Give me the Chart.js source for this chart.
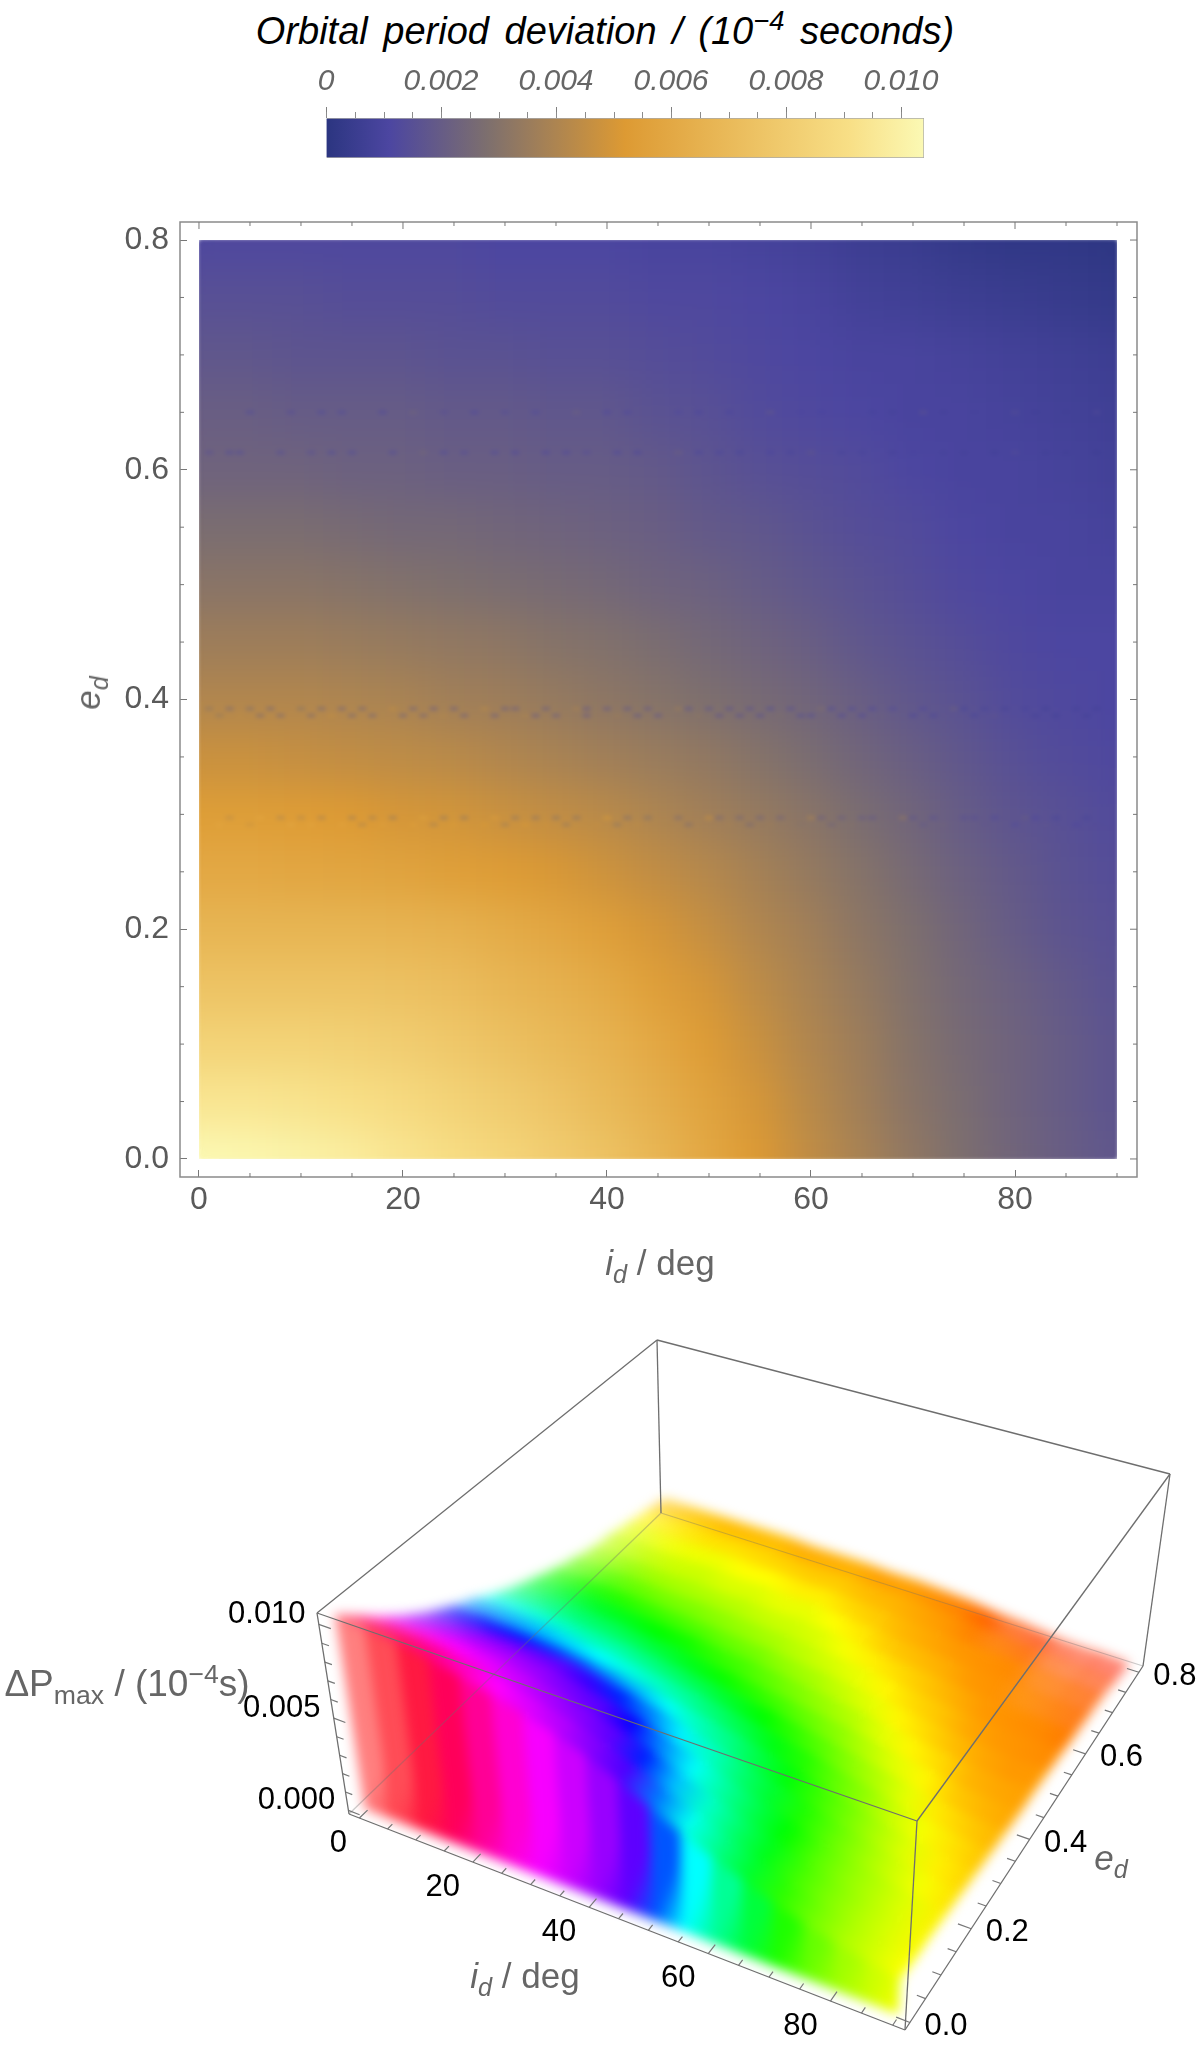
<!DOCTYPE html>
<html lang="en">
<head>
    <meta charset="UTF-8">
    <title>Orbital period deviation</title>
    <script src="https://cdn.jsdelivr.net/npm/chart.js"></script>
    <style>
        body { margin: 0; background: #fff; width: 1200px; height: 2051px; position: relative; overflow: hidden; font-family: "Liberation Sans", sans-serif; }
        canvas { position: absolute; }
        .lbl { position: absolute; white-space: nowrap; color: #666; transform: translate(-50%, -50%); font-size: 35px; }
        sub, sup { font-size: 72%; line-height: 0; }
    </style>
</head>
<body>
    <canvas id="barChart" width="660" height="100" style="left:300px;top:70px"></canvas>
    <canvas id="heatChart" width="1200" height="1100" style="left:0;top:200px"></canvas>
    <canvas id="surfaceChart" width="1200" height="751" style="left:0;top:1300px"></canvas>

    <div class="lbl" style="left:605px;top:31px;color:#000;font-size:38px;font-style:italic;word-spacing:5px">Orbital period deviation / (10<sup>&minus;4</sup> seconds)</div>
    <div class="lbl" style="left:88px;top:693px;transform:translate(-50%,-50%) rotate(-90deg)"><i>e<sub>d</sub></i></div>
    <div class="lbl" style="left:660px;top:1263px"><i>i<sub>d</sub></i> / deg</div>
    <div class="lbl" style="left:127px;top:1684px;font-size:37px">&Delta;P<sub>max</sub> / (10<sup>&minus;4</sup>s)</div>
    <div class="lbl" style="left:525px;top:1976px"><i>i<sub>d</sub></i> / deg</div>
    <div class="lbl" style="left:1111px;top:1858px"><i>e<sub>d</sub></i></div>

    <script>
        // Values
        const idValues = [0, 5, 10, 15, 20, 25, 30, 35, 40, 45, 50, 55, 60, 65, 70, 75, 80, 85, 90];
        const edValues = [0, 0.05, 0.1, 0.15, 0.2, 0.25, 0.3, 0.35, 0.4, 0.45, 0.5, 0.55, 0.6, 0.65, 0.7, 0.75, 0.8];
        // one row per edValues entry, one column per idValues entry
        const deviation = [
            [.0104, .0103, .0101, .0098, .0094, .0090, .0086, .0081, .0075, .0068, .0060, .0052, .0045, .0039, .0033, .0028, .0024, .0021, .0018],
            [.0094, .0094, .0093, .0091, .0088, .0084, .0080, .0076, .0070, .0064, .0057, .0050, .0043, .0037, .0031, .0027, .0023, .0020, .0017],
            [.0084, .0084, .0084, .0083, .0081, .0078, .0074, .0070, .0066, .0060, .0053, .0047, .0041, .0036, .0030, .0026, .0023, .0020, .0017],
            [.0075, .0075, .0075, .0075, .0074, .0072, .0068, .0065, .0061, .0055, .0050, .0044, .0039, .0034, .0029, .0025, .0022, .0019, .0016],
            [.0067, .0067, .0067, .0067, .0066, .0065, .0062, .0059, .0055, .0050, .0046, .0041, .0037, .0032, .0028, .0024, .0020, .0017, .0015],
            [.0060, .0060, .0059, .0058, .0057, .0055, .0053, .0051, .0048, .0045, .0042, .0038, .0034, .0030, .0026, .0022, .0019, .0016, .0014],
            [.0054, .0054, .0053, .0052, .0050, .0049, .0047, .0045, .0043, .0040, .0037, .0034, .0031, .0027, .0024, .0020, .0017, .0015, .0013],
            [.0047, .0047, .0046, .0045, .0044, .0043, .0041, .0039, .0037, .0035, .0033, .0030, .0027, .0024, .0021, .0018, .0015, .0013, .0012],
            [.0041, .0041, .0041, .0040, .0039, .0037, .0036, .0034, .0032, .0030, .0028, .0026, .0024, .0021, .0018, .0016, .0013, .0012, .0011],
            [.0036, .0036, .0036, .0035, .0034, .0033, .0032, .0030, .0029, .0027, .0025, .0023, .0021, .0018, .0016, .0014, .0012, .0011, .0011],
            [.0031, .0031, .0031, .0030, .0029, .0028, .0027, .0026, .0025, .0023, .0022, .0020, .0018, .0016, .0014, .0012, .0011, .0010, .0010],
            [.0027, .0027, .0027, .0026, .0025, .0025, .0024, .0023, .0022, .0021, .0019, .0018, .0016, .0014, .0013, .0011, .0010, .0010, .0009],
            [.0023, .0023, .0023, .0022, .0022, .0021, .0021, .0020, .0020, .0019, .0017, .0015, .0014, .0013, .0011, .0010, .0010, .0009, .0008],
            [.0021, .0021, .0020, .0020, .0020, .0019, .0019, .0018, .0018, .0016, .0015, .0013, .0012, .0011, .0010, .0010, .0009, .0008, .0007],
            [.0018, .0018, .0017, .0017, .0017, .0016, .0016, .0015, .0015, .0014, .0013, .0012, .0011, .0010, .0010, .0009, .0008, .0007, .0006],
            [.0015, .0015, .0015, .0014, .0014, .0014, .0013, .0013, .0013, .0012, .0012, .0011, .0010, .0008, .0007, .0006, .0005, .0004, .0003],
            [.0012, .0012, .0012, .0012, .0012, .0012, .0011, .0011, .0011, .0010, .0010, .0009, .0008, .0006, .0005, .0003, .0002, .0002, .0001]
        ];
        // noisy streaks: [id, deviation] along each eccentricity
        const streakEd = [0.65, 0.615, 0.392, 0.386, 0.297, 0.291];
        const streaks = [
            [[5, .0012], [9, .0013], [12, .0012], [14, .0012], [18, .0011], [21, .0025], [24, .0014], [27, .0011], [30, .0013], [33, .0012], [37, .0024], [40, .0011], [42, .0011], [47, .0012], [49, .0010], [52, .0010], [56, .0021], [59, .0011], [61, .0010], [66, .0009], [68, .0008], [71, .0018], [73, .0008], [76, .0009], [80, .0016], [82, .0007], [85, .0007], [88, .0014]],
            [[1, .0014], [3, .0012], [4, .0012], [8, .0013], [11, .0014], [13, .0012], [15, .0012], [19, .0012], [22, .0026], [24, .0012], [26, .0013], [29, .0012], [31, .0011], [34, .0011], [36, .0011], [38, .0013], [41, .0011], [43, .0010], [47, .0024], [49, .0010], [51, .0010], [53, .0009], [56, .0010], [58, .0009], [60, .0019], [63, .0009], [65, .0009], [68, .0008], [70, .0010], [73, .0008], [75, .0008], [78, .0007], [80, .0015], [83, .0007], [85, .0007], [88, .0006]],
            [[1, .0030], [3, .0024], [5, .0026], [7, .0022], [10, .0028], [12, .0022], [14, .0021], [16, .0022], [19, .0046], [21, .0020], [23, .0018], [25, .0019], [28, .0044], [30, .0018], [31, .0018], [34, .0018], [37, .0040], [38, .0016], [40, .0017], [42, .0016], [44, .0017], [47, .0037], [48, .0015], [50, .0015], [52, .0014], [54, .0014], [56, .0012], [58, .0013], [61, .0030], [62, .0012], [64, .0012], [66, .0011], [68, .0012], [71, .0011], [74, .0024], [75, .0009], [77, .0009], [79, .0008], [81, .0009], [83, .0007], [86, .0008], [88, .0007]],
            [[2, .0032], [4, .0044], [6, .0024], [8, .0023], [11, .0024], [13, .0046], [15, .0022], [17, .0021], [20, .0020], [22, .0021], [24, .0042], [26, .0019], [29, .0018], [32, .0040], [33, .0017], [35, .0018], [38, .0017], [41, .0036], [43, .0016], [45, .0015], [49, .0032], [51, .0014], [53, .0014], [55, .0013], [57, .0028], [59, .0012], [60, .0012], [63, .0011], [65, .0011], [67, .0022], [70, .0010], [72, .0010], [76, .0009], [78, .0018], [82, .0008], [84, .0007], [87, .0007]],
            [[3, .0042], [6, .0060], [8, .0038], [10, .0040], [12, .0036], [15, .0034], [17, .0036], [19, .0032], [22, .0058], [24, .0031], [26, .0030], [29, .0056], [31, .0030], [33, .0029], [35, .0028], [37, .0028], [40, .0054], [42, .0026], [44, .0027], [47, .0025], [50, .0048], [51, .0023], [53, .0022], [55, .0021], [57, .0021], [60, .0042], [61, .0019], [63, .0019], [65, .0018], [66, .0017], [69, .0036], [70, .0016], [72, .0015], [75, .0014], [76, .0014], [78, .0012], [81, .0022], [82, .0011], [84, .0009], [87, .0009]],
            [[2, .0060], [5, .0046], [9, .0062], [11, .0060], [14, .0058], [16, .0038], [18, .0056], [21, .0056], [23, .0036], [25, .0054], [28, .0052], [30, .0034], [32, .0052], [34, .0048], [36, .0032], [39, .0046], [41, .0030], [43, .0044], [46, .0040], [48, .0026], [52, .0038], [54, .0024], [56, .0036], [59, .0030], [62, .0022], [64, .0030], [68, .0026], [71, .0018], [73, .0024], [77, .0018], [80, .0012], [83, .0018], [86, .0011], [88, .0014]]
        ];
        const idTicks = [0, 20, 40, 60, 80];
        const edTicks = [0, 0.2, 0.4, 0.6, 0.8];
        const barTicks = [0, 0.002, 0.004, 0.006, 0.008, 0.01];
        const zTicks = [0, 0.005, 0.01];
        const barMax = 0.0104;

        // colour bar stops
        const colorValues = [0, .0011, .0028, .0052, .0091, .0104];
        const colorRgb = [[43, 53, 128], [76, 70, 161], [125, 111, 110], [221, 154, 51], [248, 223, 134], [251, 249, 180]];
        // hue used on the 3D surface
        const hueValues = [0, .0035, .0052, .0060, .0066, .0087, .0104];
        const hueDegrees = [0, 120, 180, 220, 258, 300, 360];

        function lookup(xs, ys, v) {
            for (let i = 1; i < xs.length; i++) {
                if (v <= xs[i]) {
                    const f = (v - xs[i - 1]) / (xs[i] - xs[i - 1]);
                    return ys[i - 1] + f * (ys[i] - ys[i - 1]);
                }
            }
            return ys[ys.length - 1];
        }
        function heatColor(v, a) {
            const rgb = [0, 1, 2].map(k => Math.round(lookup(colorValues, colorRgb.map(c => c[k]), v)));
            return `rgba(${rgb[0]},${rgb[1]},${rgb[2]},${a === undefined ? 1 : a})`;
        }
        function hueColor(v, a) {
            return `hsla(${lookup(hueValues, hueDegrees, v)},100%,50%,${a === undefined ? 1 : a})`;
        }

        const tickFont = { family: '"Liberation Sans", sans-serif', size: 32 };

        // ---- colour bar
        new Chart(document.getElementById('barChart'), {
            type: 'bar',
            data: {
                labels: [''],
                datasets: [{
                    data: [barMax],
                    barPercentage: 1,
                    categoryPercentage: 1,
                    borderColor: '#aaa',
                    borderWidth: 1,
                    backgroundColor: c => {
                        const area = c.chart.chartArea;
                        if (!area) return '#888';
                        const g = c.chart.ctx.createLinearGradient(area.left, 0, area.right, 0);
                        colorValues.forEach(v => g.addColorStop(v / barMax, heatColor(v)));
                        return g;
                    }
                }]
            },
            options: {
                indexAxis: 'y',
                responsive: false,
                animation: false,
                layout: { autoPadding: false, padding: { left: 26, right: 36, top: 0, bottom: 12 } },
                plugins: { legend: { display: false }, tooltip: { enabled: false } },
                scales: {
                    y: { display: false },
                    x: {
                        position: 'top',
                        min: 0,
                        max: barMax,
                        afterFit: s => { s.height = 48; s.paddingLeft = 0; s.paddingRight = 0; },
                        afterBuildTicks: s => { s.ticks = barTicks.map(v => ({ value: v })); },
                        grid: { drawOnChartArea: false, tickLength: 11, tickColor: '#808080', tickWidth: 1 },
                        border: { display: false },
                        ticks: {
                            font: { ...tickFont, size: 30, style: 'italic' },
                            color: '#666',
                            padding: 7,
                            maxRotation: 0,
                            autoSkip: false,
                            callback: v => v === 0 ? '0' : v.toFixed(3)
                        }
                    }
                }
            },
            plugins: [{
                id: 'barMinorTicks',
                afterDraw(chart) {
                    const { ctx, scales: { x }, chartArea } = chart;
                    ctx.save();
                    ctx.strokeStyle = '#8c8c8c';
                    ctx.beginPath();
                    for (let v = 0; v <= barMax; v += 0.0005) {
                        const px = Math.round(x.getPixelForValue(v)) + 0.5;
                        ctx.moveTo(px, chartArea.top);
                        ctx.lineTo(px, chartArea.top - 6);
                    }
                    ctx.stroke();
                    ctx.restore();
                }
            }]
        });

        // ---- density plot
        const cells = [];
        edValues.forEach((ed, r) => idValues.forEach((id, c) => cells.push({ x: id, y: ed, v: deviation[r][c] })));

        const streakSets = streaks.map((band, b) => ({
            data: band.map(p => ({ x: p[0], y: streakEd[b] })),
            pointStyle: 'line',
            pointRadius: 4,
            pointBorderWidth: 3,
            pointBorderColor: band.map(p => heatColor(p[1], 0.55)),
            showLine: false,
            order: 1
        }));

        function softenInside(chart, radius) {
            const { ctx, canvas } = chart;
            const copy = document.createElement('canvas');
            copy.width = canvas.width;
            copy.height = canvas.height;
            copy.getContext('2d').drawImage(canvas, 0, 0);
            const { x, y } = chart.scales;
            const left = x.getPixelForValue(0), right = x.getPixelForValue(90);
            const top = y.getPixelForValue(0.8), bottom = y.getPixelForValue(0);
            ctx.save();
            ctx.clearRect(0, 0, canvas.width, canvas.height);
            ctx.beginPath();
            ctx.rect(left, top, right - left, bottom - top);
            ctx.clip();
            ctx.filter = `blur(${radius}px)`;
            // twice, so the blur does not bleach the edges of the field
            ctx.drawImage(copy, 0, 0);
            ctx.drawImage(copy, 0, 0);
            ctx.filter = 'none';
            ctx.restore();
        }
        const softHeat = {
            id: 'softHeat',
            afterDatasetDraw(chart, args) {
                if (args.index === 0) softenInside(chart, 20);
            },
            afterDatasetsDraw(chart) {
                softenInside(chart, 2);
            }
        };
        const frameTicks = {
            id: 'frameTicks',
            afterDraw(chart) {
                const { ctx, chartArea: a, scales: { x, y } } = chart;
                ctx.save();
                ctx.strokeStyle = '#8a8a8a';
                ctx.lineWidth = 1.5;
                ctx.strokeRect(a.left, a.top, a.right - a.left, a.bottom - a.top);
                ctx.lineWidth = 1;
                ctx.strokeStyle = '#777';
                ctx.beginPath();
                for (let v = 0; v <= 90; v += 5) {
                    const px = x.getPixelForValue(v), len = v % 20 === 0 ? 7 : 4;
                    ctx.moveTo(px, a.top); ctx.lineTo(px, a.top + len);
                    if (v % 20) { ctx.moveTo(px, a.bottom); ctx.lineTo(px, a.bottom - len); }
                }
                for (let k = 0; k <= 16; k++) {
                    const py = y.getPixelForValue(k * 0.05), len = k % 4 === 0 ? 7 : 4;
                    ctx.moveTo(a.right, py); ctx.lineTo(a.right - len, py);
                    if (k % 4) { ctx.moveTo(a.left, py); ctx.lineTo(a.left + len, py); }
                }
                ctx.stroke();
                ctx.restore();
            }
        };

        new Chart(document.getElementById('heatChart'), {
            type: 'scatter',
            data: {
                datasets: [{
                    data: cells,
                    pointStyle: 'rect',
                    pointRadius: 41,
                    pointBorderWidth: 0,
                    pointBackgroundColor: cells.map(p => heatColor(p.v)),
                    clip: false,
                    order: 2
                }, ...streakSets]
            },
            options: {
                responsive: false,
                animation: false,
                layout: { autoPadding: false, padding: { left: 0, right: 63, top: 22, bottom: 0 } },
                plugins: { legend: { display: false }, tooltip: { enabled: false } },
                scales: {
                    x: {
                        min: -1.86,
                        max: 91.96,
                        afterFit: s => { s.height = 123; s.paddingLeft = 0; s.paddingRight = 0; },
                        afterBuildTicks: s => { s.ticks = idTicks.map(v => ({ value: v })); },
                        grid: { drawOnChartArea: false, tickLength: -7, tickColor: '#777', z: 1 },
                        border: { display: false, z: 1 },
                        ticks: { font: tickFont, color: '#5a5a5a', padding: 11, maxRotation: 0, autoSkip: false, z: 1 }
                    },
                    y: {
                        min: -0.0157,
                        max: 0.8157,
                        afterFit: s => { s.width = 180; s.paddingTop = 0; s.paddingBottom = 0; },
                        afterBuildTicks: s => { s.ticks = edTicks.map(v => ({ value: v })); },
                        grid: { drawOnChartArea: false, tickLength: -7, tickColor: '#777', z: 1 },
                        border: { display: false, z: 1 },
                        ticks: { font: tickFont, color: '#5a5a5a', padding: 18, autoSkip: false, z: 1, callback: v => v.toFixed(1) }
                    }
                }
            },
            plugins: [softHeat, frameTicks]
        });

        // ---- 3D surface
        // camera: screen position and depth weight of the plot box corners
        const boxFloor = [[349, 1814, 1.06], [905, 2030, 1], [1143, 1666, 1.1], [661, 1513, 1.16]];
        const boxRoof = [[317, 1613, 1.04], [917, 1821, 0.98], [1170, 1474, 1.08], [657, 1340, 1.14]];
        const idRange = [-1.86, 91.96], edRange = [-0.0157, 0.8157], zRange = [-0.0002, 0.0106];

        function project(id, ed, z) {
            const u = (id - idRange[0]) / (idRange[1] - idRange[0]);
            const v = (ed - edRange[0]) / (edRange[1] - edRange[0]);
            const t = (z - zRange[0]) / (zRange[1] - zRange[0]);
            const ws = [(1 - u) * (1 - v), u * (1 - v), u * v, (1 - u) * v];
            let X = 0, Y = 0, W = 0;
            ws.forEach((w, i) => {
                [[boxFloor[i], 1 - t], [boxRoof[i], t]].forEach(([c, k]) => {
                    X += w * k * c[0] * c[2];
                    Y += w * k * c[1] * c[2];
                    W += w * k * c[2];
                });
            });
            return { x: X / W, y: Y / W };
        }
        function polygon(points, color, order) {
            return {
                data: [...points, points[0]],
                showLine: true,
                fill: 'shape',
                backgroundColor: color,
                borderColor: color,
                borderWidth: 1,
                pointRadius: 0,
                tension: 0,
                order
            };
        }
        function sideGradient(p0, p1, v0, v1, a0, a1) {
            return c => {
                const { x, y } = c.chart.scales;
                if (!c.chart.chartArea || !x || !y) return hueColor(v0, a0);
                const g = c.chart.ctx.createLinearGradient(x.getPixelForValue(p0.x), y.getPixelForValue(p0.y), x.getPixelForValue(p1.x), y.getPixelForValue(p1.y));
                g.addColorStop(0, hueColor(v0, a0));
                g.addColorStop(1, hueColor(v1, a1));
                return g;
            };
        }
        // the dots thin out towards the near-left side and the far-right corner
        function cellAlpha(r, c) {
            if (c <= 0) return 0.5;
            if (c === 1) return 0.7;
            if (c === 2) return 0.9;
            const far = [0.9, 0.8, 0.65, 0.55];
            if (r >= 12 && c >= 16) return far[Math.min(r - 12, 3)];
            if (r >= 13 && c >= 14) return far[Math.min(r - 13, 3)] + 0.1;
            return 1;
        }

        const surfaceSets = [];
        let paintOrder = 5000;
        // rear rows first, front wall last
        for (let r = edValues.length - 2; r >= 0; r--) {
            for (let c = 0; c < idValues.length - 1; c++) {
                const z00 = deviation[r][c], z10 = deviation[r][c + 1], z01 = deviation[r + 1][c], z11 = deviation[r + 1][c + 1];
                const p0 = project(idValues[c], edValues[r], z00);
                const p1 = project(idValues[c + 1], edValues[r], z10);
                const p2 = project(idValues[c + 1], edValues[r + 1], z11);
                const p3 = project(idValues[c], edValues[r + 1], z01);
                surfaceSets.push(polygon([p0, p1, p2, p3], sideGradient(p0, p1, (z00 + z01) / 2, (z10 + z11) / 2, cellAlpha(r, c), cellAlpha(r, c + 1)), paintOrder--));
            }
        }
        for (let c = 0; c < idValues.length - 1; c++) {
            const z0 = deviation[0][c], z1 = deviation[0][c + 1];
            const p0 = project(idValues[c], 0, 0), p1 = project(idValues[c + 1], 0, 0);
            const p2 = project(idValues[c + 1], 0, z1), p3 = project(idValues[c], 0, z0);
            surfaceSets.push(polygon([p0, p1, p2, p3], sideGradient(p0, p1, z0, z1, cellAlpha(0, c), cellAlpha(0, c + 1)), paintOrder--));
        }
        surfaceSets[surfaceSets.length - 1].lastSurface = true;

        function boxEdge(a, b, alpha) {
            return {
                data: [a, b].map(c => ({ x: c[0], y: c[1] })),
                showLine: true,
                borderColor: `rgba(110,110,110,${alpha})`,
                borderWidth: 1.3,
                pointRadius: 0,
                order: 1
            };
        }
        const boxEdges = [];
        for (let i = 0; i < 4; i++) {
            const j = (i + 1) % 4;
            boxEdges.push(boxEdge(boxRoof[i], boxRoof[j], 1));
            boxEdges.push(boxEdge(boxFloor[i], boxRoof[i], 1));
            boxEdges.push(boxEdge(boxFloor[i], boxFloor[j], i < 2 ? 1 : 0.35));
        }
        function tickSet(pairs) {
            const data = [];
            pairs.forEach(p => data.push(p[0], p[1], { x: NaN, y: NaN }));
            return { data, showLine: true, spanGaps: false, borderColor: '#777', borderWidth: 1.2, pointRadius: 0, order: 1 };
        }
        const idTickMarks = [], edTickMarks = [], zTickMarks = [];
        for (let v = 0; v <= 90; v += 5) {
            const d = v % 20 === 0 ? 0.02 : 0.012;
            idTickMarks.push([project(v, edRange[0], zRange[0]), project(v, edRange[0] + d, zRange[0])]);
        }
        for (let k = 0; k <= 16; k++) {
            const d = k % 4 === 0 ? 2.2 : 1.4;
            edTickMarks.push([project(idRange[1], k * 0.05, zRange[0]), project(idRange[1] - d, k * 0.05, zRange[0])]);
        }
        for (let k = 0; k <= 10; k++) {
            const d = k % 5 === 0 ? 2 : 1.2;
            zTickMarks.push([project(idRange[0], edRange[0], k * 0.001), project(idRange[0] + d, edRange[0], k * 0.001)]);
        }

        const softSurface = {
            id: 'softSurface',
            afterDatasetDraw(chart, args) {
                if (!chart.data.datasets[args.index].lastSurface) return;
                const { ctx, canvas } = chart;
                const copy = document.createElement('canvas');
                copy.width = canvas.width;
                copy.height = canvas.height;
                copy.getContext('2d').drawImage(canvas, 0, 0);
                ctx.save();
                ctx.clearRect(0, 0, canvas.width, canvas.height);
                ctx.filter = 'blur(6px)';
                ctx.drawImage(copy, 0, 0);
                ctx.restore();
            }
        };
        const boxLabels = {
            id: 'boxLabels',
            afterDraw(chart) {
                const { ctx, scales: { x, y } } = chart;
                ctx.save();
                ctx.font = '31px "Liberation Sans", sans-serif';
                ctx.fillStyle = '#000';
                ctx.textAlign = 'center';
                ctx.textBaseline = 'middle';
                const put = (p, dx, dy, text) => ctx.fillText(text, x.getPixelForValue(p.x) + dx, y.getPixelForValue(p.y) + dy);
                idTicks.forEach(v => put(project(v, edRange[0], zRange[0]), v === 0 ? -21 : -30, 25, String(v)));
                edTicks.forEach(v => put(project(idRange[1], v, zRange[0]), 36, 4, v.toFixed(1)));
                zTicks.forEach(v => put(project(idRange[0], edRange[0], v), -52, -10, v.toFixed(3)));
                ctx.restore();
            }
        };

        new Chart(document.getElementById('surfaceChart'), {
            type: 'scatter',
            data: { datasets: [...surfaceSets, ...boxEdges, tickSet(idTickMarks), tickSet(edTickMarks), tickSet(zTickMarks)] },
            options: {
                responsive: false,
                animation: false,
                layout: { autoPadding: false, padding: 0 },
                plugins: { legend: { display: false }, tooltip: { enabled: false } },
                scales: {
                    x: { display: false, min: 0, max: 1200 },
                    y: { display: false, min: 1300, max: 2051, reverse: true }
                }
            },
            plugins: [softSurface, boxLabels]
        });
    </script>
</body>
</html>
